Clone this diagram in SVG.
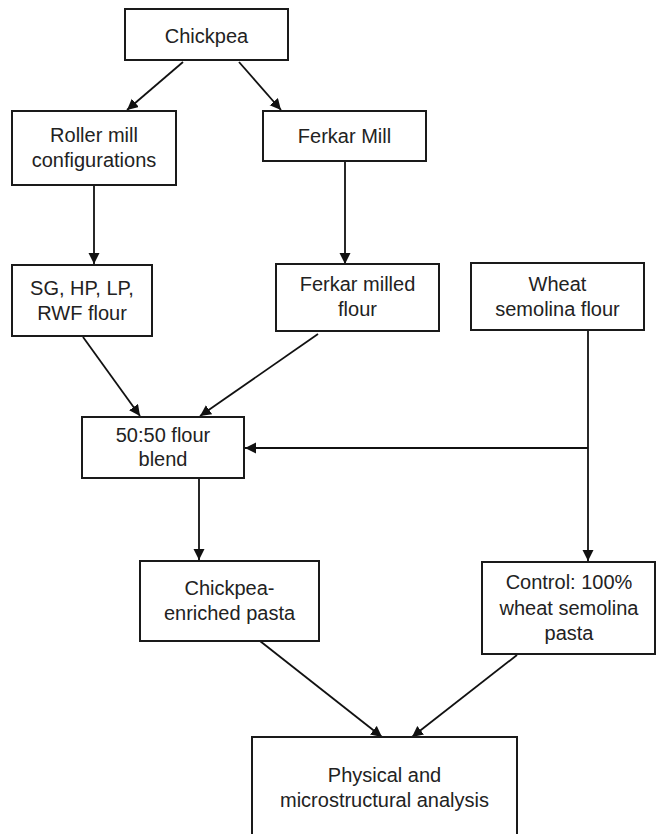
<svg xmlns="http://www.w3.org/2000/svg" width="657" height="834" viewBox="0 0 657 834">
<style>
.box{fill:#fff;stroke:#1a1a1a;stroke-width:2}
.lbl{font-family:"Liberation Sans",Arial,sans-serif;font-size:20px;fill:#222;text-anchor:middle}
.edge{stroke:#111;stroke-width:1.8;fill:none;marker-end:url(#arr)}
.plain{stroke:#111;stroke-width:1.8;fill:none}
</style>
<defs>
<marker id="arr" markerUnits="userSpaceOnUse" markerWidth="12" markerHeight="12" refX="11" refY="5.5" orient="auto">
<path d="M0,0 L11,5.5 L0,11 z" fill="#111"/>
</marker>
</defs>
<rect width="657" height="834" fill="#fff"/>
<g id="connectors">
<line class="edge" x1="183" y1="62" x2="127" y2="110"/>
<line class="edge" x1="239" y1="62" x2="281" y2="110"/>
<line class="edge" x1="94" y1="185" x2="94" y2="264"/>
<line class="edge" x1="345" y1="161" x2="345" y2="264"/>
<line class="edge" x1="83" y1="337" x2="140" y2="416"/>
<line class="edge" x1="318" y1="334" x2="200" y2="416"/>
<line class="edge" x1="588" y1="330" x2="588" y2="561"/>
<line class="edge" x1="588" y1="448" x2="245" y2="448"/>
<line class="edge" x1="199" y1="478" x2="199" y2="560"/>
<line class="edge" x1="260" y1="641" x2="382" y2="737"/>
<line class="edge" x1="517" y1="655" x2="412" y2="737"/>
</g>
<g id="chickpea">
<rect class="box" x="125" y="9" width="163" height="51"/>
<text class="lbl" x="206.5" y="43">Chickpea</text>
</g>
<g id="roller">
<rect class="box" x="12" y="111" width="164" height="74"/>
<text class="lbl" x="94" y="142">Roller mill</text>
<text class="lbl" x="94" y="167">configurations</text>
</g>
<g id="ferkar-mill">
<rect class="box" x="263" y="111" width="163" height="50"/>
<text class="lbl" x="344.5" y="143">Ferkar Mill</text>
</g>
<g id="sg-flour">
<rect class="box" x="12" y="265" width="140" height="71"/>
<text class="lbl" x="82" y="295">SG, HP, LP,</text>
<text class="lbl" x="82" y="320">RWF flour</text>
</g>
<g id="ferkar-flour">
<rect class="box" x="276" y="264" width="163" height="67"/>
<text class="lbl" x="357.5" y="291">Ferkar milled</text>
<text class="lbl" x="357.5" y="316">flour</text>
</g>
<g id="wheat">
<rect class="box" x="471" y="263" width="173" height="67"/>
<text class="lbl" x="557.5" y="291">Wheat</text>
<text class="lbl" x="557.5" y="316">semolina flour</text>
</g>
<g id="blend">
<rect class="box" x="82" y="417" width="162" height="61"/>
<text class="lbl" x="163" y="442">50:50 flour</text>
<text class="lbl" x="163" y="466">blend</text>
</g>
<g id="enriched">
<rect class="box" x="140" y="561" width="179" height="80"/>
<text class="lbl" x="229.5" y="595">Chickpea-</text>
<text class="lbl" x="229.5" y="620">enriched pasta</text>
</g>
<g id="control">
<rect class="box" x="482" y="562" width="173" height="92"/>
<text class="lbl" x="569" y="589">Control: 100%</text>
<text class="lbl" x="569" y="615">wheat semolina</text>
<text class="lbl" x="569" y="640">pasta</text>
</g>
<g id="analysis">
<rect class="box" x="252" y="737" width="265" height="110"/>
<text class="lbl" x="384.5" y="782">Physical and</text>
<text class="lbl" x="384.5" y="807">microstructural analysis</text>
</g>
</svg>
